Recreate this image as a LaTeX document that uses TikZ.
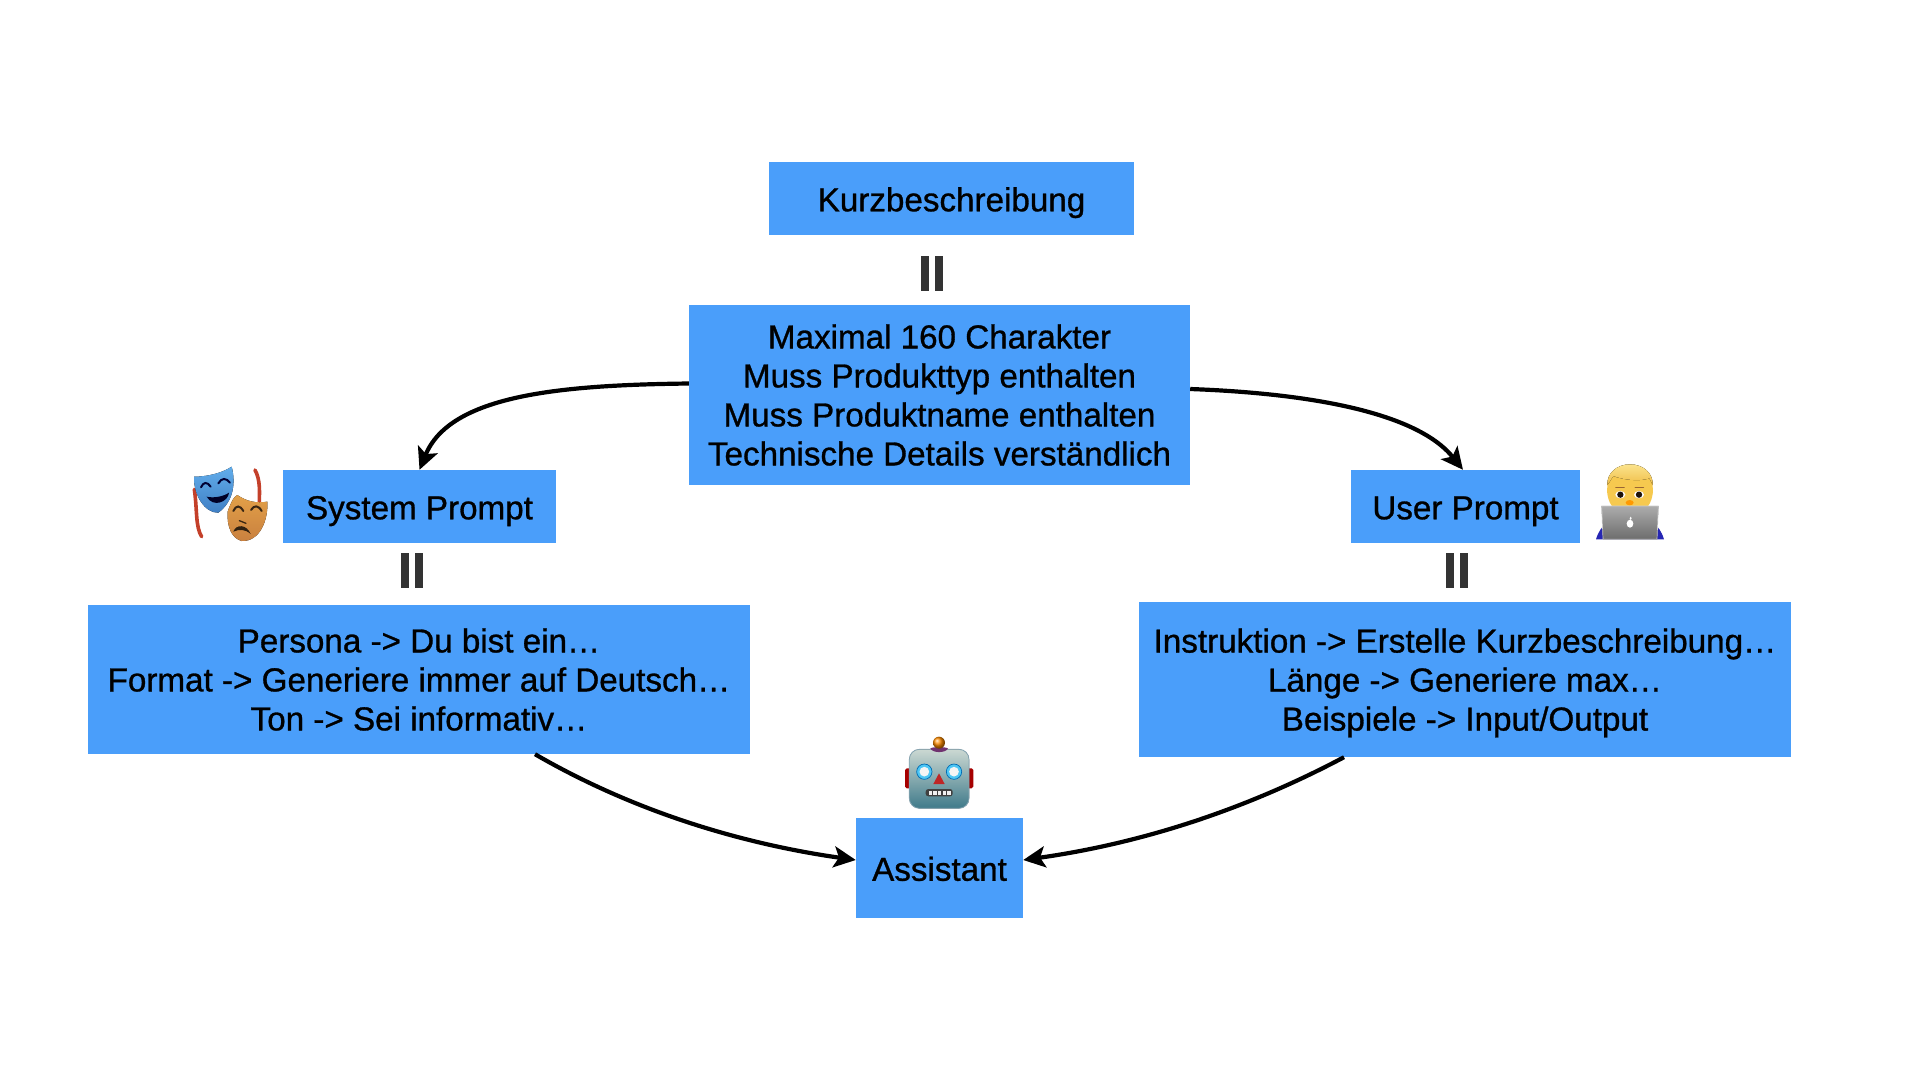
\documentclass[tikz,border=0pt]{standalone}
\usepackage{fontspec}
\newfontfamily\boxfont[RawFeature={embolden=0.9}]{Liberation Sans}
\usetikzlibrary{arrows.meta}
\definecolor{boxblue}{HTML}{4A9EFA}
\definecolor{barcol}{HTML}{333333}
\definecolor{ribbon}{HTML}{C4402A}
\definecolor{maskblueA}{HTML}{62ADEB}
\definecolor{maskblueB}{HTML}{3F7FC4}
\definecolor{maskorA}{HTML}{E2A048}
\definecolor{maskorB}{HTML}{C9803F}
\definecolor{skin}{HTML}{F6C94F}
\definecolor{hairA}{HTML}{FBE38C}
\definecolor{hairB}{HTML}{F0BE48}
\definecolor{robotA}{HTML}{CBD8D2}
\definecolor{robotB}{HTML}{3F7A8A}
\tikzset{
  x=1pt,y=-1pt,
  bluebox/.style={fill=boxblue,draw=none,inner sep=0pt,align=center,text=black,
    font=\boxfont\fontsize{33.2}{39}\selectfont},
  oneline/.style={bluebox,text height=26pt,text depth=0.5pt},
  arrowline/.style={draw=black,line width=4.2pt,-{Stealth[length=22pt,width=21pt,inset=5pt]}},
  barstyle/.style={fill=barcol,draw=none,minimum width=7.5pt,minimum height=35pt,inner sep=0pt},
  emoji/.style={shift={#1},scale=0.33333}
}
\begin{document}
\begin{tikzpicture}
\useasboundingbox[fill=white] (0,0) rectangle (1920,1080);
% boxes
\node[oneline,minimum width=365pt,minimum height=73pt] (kurz) at (951.5,198.5) {Kurzbeschreibung};
\node[bluebox,minimum width=501pt,minimum height=180pt] (max) at (939.5,395) {Maximal 160 Charakter\\Muss Produkttyp enthalten\\Muss Produktname enthalten\\Technische Details verständlich};
\node[oneline,minimum width=273pt,minimum height=73pt] (sys) at (419.5,506.5) {System Prompt};
\node[oneline,minimum width=229pt,minimum height=73pt] (usr) at (1465.5,506.5) {User Prompt};
\node[bluebox,minimum width=662pt,minimum height=149pt] (per) at (419,679.5) {Persona -> Du bist ein…\\Format -> Generiere immer auf Deutsch…\\Ton -> Sei informativ…};
\node[bluebox,text depth=0pt,minimum width=652pt,minimum height=155pt] (ins) at (1465,679.5) {Instruktion -> Erstelle Kurzbeschreibung…\\Länge -> Generiere max…\\Beispiele -> Input/Output};
\node[oneline,minimum width=167pt,minimum height=100pt] (asst) at (939.5,868) {Assistant};
% bars
\foreach \n/\cx/\cy in {a/932/273.5,b/412/570.5,c/1457/570.5}{
  \node[barstyle] (bar\n l) at (\cx-7.2,\cy) {};
  \node[barstyle] (bar\n r) at (\cx+7.2,\cy) {};
}
% connectors
\draw[arrowline] ([yshift=11.5pt]max.west) .. controls (560,385) and (450,395) .. ([xshift=0pt]sys.north);
\draw[arrowline] ([yshift=6pt]max.east) .. controls (1300,393) and (1415,410) .. ([xshift=-2.5pt]usr.north);
\draw[arrowline] ([xshift=116pt]per.south) .. controls (640,815) and (750,845) .. ([yshift=8pt]asst.west);
\draw[arrowline] ([xshift=-121pt]ins.south) .. controls (1235,815) and (1130,845) .. ([yshift=8pt]asst.east);
% masks
\begin{scope}[emoji={(150,430)}]
  \draw[line width=3.6pt,color=ribbon,line cap=round] (133,178) .. controls (142,240) and (136,290) .. (155,320);
  \draw[line width=3.6pt,color=ribbon,line cap=round] (315,120) .. controls (332,150) and (328,190) .. (328,215);
  \fill[top color=maskblueA,bottom color=maskblueB] (132,140) .. controls (170,140) and (215,130) .. (245,110) .. controls (258,160) and (250,215) .. (205,248) .. controls (165,250) and (130,195) .. (132,140) -- cycle;
  \fill[top color=maskorA,bottom color=maskorB] (233,245) .. controls (240,225) and (250,200) .. (262,195) .. controls (290,215) and (320,220) .. (352,215) .. controls (355,270) and (330,335) .. (275,333) .. controls (245,325) and (230,290) .. (233,245) -- cycle;
  \draw[line width=2pt,color=black!80!blue,line cap=round] (153,172) .. controls (160,155) and (172,155) .. (182,170);
  \draw[line width=2pt,color=black!80!blue,line cap=round] (205,160) .. controls (215,143) and (228,143) .. (240,158);
  \fill[black!85!blue] (170,200) .. controls (190,205) and (220,200) .. (237,188) .. controls (235,215) and (190,235) .. (170,200) -- cycle;
  \draw[line width=2pt,color=black!70!brown,line cap=round] (250,243) .. controls (258,225) and (270,225) .. (280,243);
  \draw[line width=2pt,color=black!70!brown,line cap=round] (303,240) .. controls (312,225) and (325,225) .. (335,243);
  \draw[line width=1.3pt,color=black!70!brown,line cap=round] (268,272) -- (288,280);
  \fill[black!75!brown] (250,305) .. controls (258,282) and (290,282) .. (302,312) .. controls (285,297) and (268,297) .. (250,305) -- cycle;
\end{scope}
% man with laptop
\begin{scope}[emoji={(1560,430)}]
  \fill[blue!65!black!85!white] (108,328) .. controls (115,305) and (125,290) .. (140,280) -- (280,280) .. controls (295,290) and (305,305) .. (312,328) -- cycle;
  \fill[color=skin] (142,170) .. controls (140,130) and (170,103) .. (210,103) .. controls (250,103) and (280,130) .. (278,170) .. controls (282,195) and (270,230) .. (255,235) -- (165,235) .. controls (150,230) and (138,195) .. (142,170) -- cycle;
  \fill[top color=hairA,bottom color=hairB] (142,165) .. controls (140,130) and (170,103) .. (210,103) .. controls (250,103) and (280,130) .. (278,165) -- (268,145) .. controls (240,155) and (190,150) .. (160,138) .. controls (155,145) and (150,155) .. (142,165) -- cycle;
  \fill[white] (181,194) ellipse (15 and 11);
  \fill[white] (237,194) ellipse (15 and 11);
  \fill[black!85!brown] (181,194) circle (9.5);
  \fill[black!85!brown] (237,194) circle (9.5);
  \draw[line width=1.6pt,color=brown!80!black,line cap=round] (168,172) -- (192,172);
  \draw[line width=1.6pt,color=brown!80!black,line cap=round] (226,172) -- (250,172);
  \fill[orange!80!yellow] (209,218) ellipse (12 and 8);
  \fill[top color=gray!65,bottom color=gray!85!black,draw=gray!40,line width=0.7pt] (125,228) -- (295,228) -- (291,328) -- (129,328) -- cycle;
  \fill[white] (210,281) ellipse (10 and 12);
  \fill[white] (212,265) ellipse (3 and 5);
\end{scope}
% robot
\begin{scope}[emoji={(820,720)}]
  \fill[red!65!black,rounded corners=1.7pt] (255,145) rectangle (275,205);
  \fill[red!65!black,rounded corners=1.7pt] (440,145) rectangle (460,205);
  \fill[top color=robotA,bottom color=robotB,rounded corners=10pt] (268,88) rectangle (447,265);
  \draw[color=black!55!cyan!60,line width=0.8pt,rounded corners=10pt] (268,88) rectangle (447,265);
  \fill[violet!60!black!80!white] (331,85) .. controls (340,80) and (374,80) .. (384,85) .. controls (378,100) and (337,100) .. (331,85) -- cycle;
  \shade[ball color=orange!90!yellow] (357,68) circle (18);
  \foreach \ex in {313,402}{
    \fill[cyan!70!white,draw=blue!40!cyan!70!black,line width=0.7pt] (\ex,155) circle (23);
    \fill[white!92!gray] (\ex,155) circle (14.5);
  }
  \fill[red!70!black!85!white] (357,160) -- (374,192) -- (340,192) -- cycle;
  \fill[black!75,rounded corners=2.7pt] (317,207) rectangle (398,229);
  \foreach \tx in {326,340,354,368,382}{
    \fill[white!88!gray] (\tx,212) rectangle (\tx+10,224);
  }
\end{scope}
\end{tikzpicture}
\end{document}
